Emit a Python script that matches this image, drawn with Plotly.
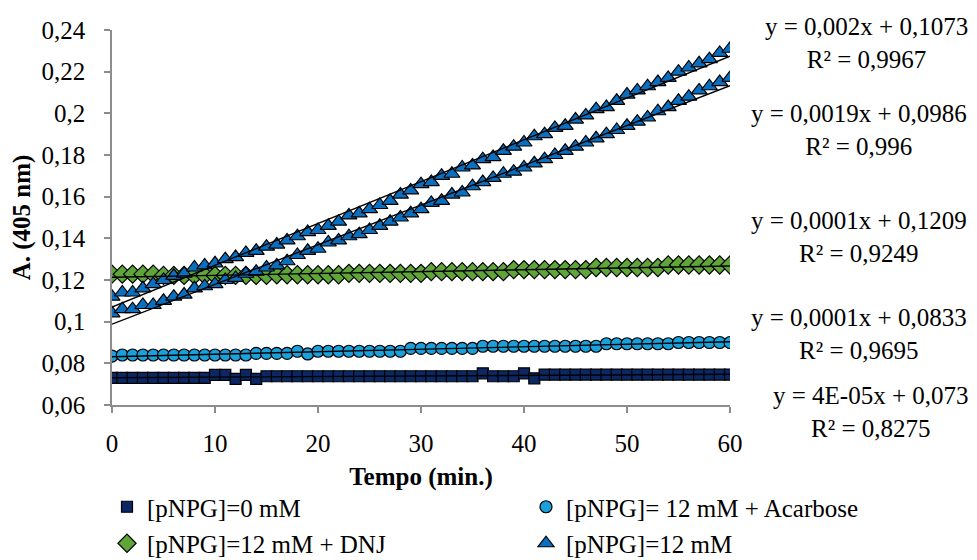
import numpy as np
import plotly.graph_objects as go

# ---------------- data ----------------
tempo = list(range(0, 61))

pnpg_0 = ([0.073] * 10 + [0.0745, 0.0745, 0.0725, 0.0745, 0.0725] + [0.0738] * 21 +
          [0.0752] + [0.0738] * 3 + [0.0752, 0.0728] + [0.0746] * 19)

pnpg_acarbose = ([0.0835] + [0.084] * 13 + [0.0848] * 4 + [0.0858, 0.0845] + [0.0858] * 9 +
                 [0.0872] * 7 + [0.0882] * 12 + [0.0894] * 7 + [0.090] * 6)

pnpg_dnj = ([0.1228] * 5 + [0.1222] * 11 + [0.1225] * 7 + [0.1232] * 8 + [0.1240] * 8 +
            [0.1250] * 8 + [0.1260] * 7 + [0.1272] * 7)

pnpg_12_a = [0.112, 0.114, 0.114, 0.116, 0.118, 0.120, 0.122, 0.123, 0.126, 0.127,
             0.128, 0.130, 0.131, 0.133, 0.134, 0.136, 0.137, 0.139, 0.141, 0.143,
             0.144, 0.146, 0.148, 0.151, 0.152, 0.154, 0.156, 0.158, 0.161, 0.163,
             0.166, 0.167, 0.170, 0.171, 0.174, 0.175, 0.178, 0.179, 0.182, 0.184,
             0.186, 0.189, 0.190, 0.193, 0.194, 0.197, 0.199, 0.202, 0.203, 0.206,
             0.209, 0.211, 0.213, 0.215, 0.217, 0.220, 0.222, 0.224, 0.226, 0.229,
             0.231]

pnpg_12_b = [0.104, 0.106, 0.106, 0.108, 0.108, 0.110, 0.112, 0.113, 0.116, 0.117,
             0.118, 0.120, 0.121, 0.123, 0.124, 0.126, 0.127, 0.129, 0.132, 0.134,
             0.135, 0.138, 0.139, 0.141, 0.142, 0.144, 0.146, 0.148, 0.150, 0.152,
             0.154, 0.157, 0.158, 0.161, 0.162, 0.165, 0.167, 0.169, 0.171, 0.172,
             0.174, 0.176, 0.178, 0.180, 0.182, 0.184, 0.186, 0.188, 0.190, 0.192,
             0.194, 0.196, 0.198, 0.201, 0.203, 0.206, 0.208, 0.211, 0.213, 0.215,
             0.217]

legend_names = ["[pNPG]=0 mM", "[pNPG]= 12 mM + Acarbose", "[pNPG]=12 mM + DNJ", "[pNPG]=12 mM"]

y_ticks = [0.06, 0.08, 0.1, 0.12, 0.14, 0.16, 0.18, 0.2, 0.22, 0.24]
y_tick_labels = ["0,06", "0,08", "0,1", "0,12", "0,14", "0,16", "0,18", "0,2", "0,22", "0,24"]
x_ticks = [0, 10, 20, 30, 40, 50, 60]

eq_texts = ["y = 0,002x + 0,1073", "y = 0,0019x + 0,0986", "y = 0,0001x + 0,1209",
            "y = 0,0001x + 0,0833", "y = 4E-05x + 0,073"]
r2_texts = ["R² = 0,9967", "R² = 0,996", "R² = 0,9249", "R² = 0,9695", "R² = 0,8275"]

# ---------------- figure ----------------
FONT = "Liberation Serif"
FS = 25

series = [
    dict(y=pnpg_0, name=legend_names[0], symbol="square", color="#0B2764", size=11,
         legend="legend", show=True),
    dict(y=pnpg_acarbose, name=legend_names[1], symbol="circle", color="#1AA0DA", size=12,
         legend="legend2", show=True),
    dict(y=pnpg_dnj, name=legend_names[2], symbol="diamond", color="#5FA53A", size=14,
         legend="legend", show=True),
    dict(y=pnpg_12_a, name=legend_names[3], symbol="triangle-up", color="#0A6FBF", size=14,
         legend="legend2", show=True),
    dict(y=pnpg_12_b, name=legend_names[3] + " ", symbol="triangle-up", color="#0A6FBF", size=14,
         legend="legend2", show=False),
]

fig = go.Figure()
for i, s in enumerate(series):
    fig.add_trace(go.Scatter(
        x=tempo, y=s["y"], mode="markers", name=s["name"],
        marker=dict(symbol=s["symbol"], color=s["color"], size=s["size"],
                    line=dict(color="black", width=1.2)),
        showlegend=s["show"], legend=s["legend"], legendgroup="g%d" % i,
    ))

# linear trendlines (least squares of each series)
xt = np.array([tempo[0], tempo[-1]], dtype=float)
for s in series:
    k, b = np.polyfit(np.array(tempo, dtype=float), np.array(s["y"]), 1)
    fig.add_trace(go.Scatter(x=xt, y=k * xt + b, mode="lines",
                             line=dict(color="black", width=1.4),
                             showlegend=False, hoverinfo="skip"))

L, R, T, B = 112, 247, 30, 155
W, H = 977, 560
pw, ph = W - L - R, H - T - B


def px_x(px):
    return (px - L) / pw


def px_y(py):
    return (H - B - py) / ph


eq_pos = [(866, 43), (859, 130), (859, 237), (859, 334), (871, 412)]
annotations = []
for (cx, cy), et, rt in zip(eq_pos, eq_texts, r2_texts):
    annotations.append(dict(x=px_x(cx), y=px_y(cy), xref="paper", yref="paper",
                            text=et + "<br>" + rt, align="center",
                            showarrow=False, xanchor="center", yanchor="middle",
                            font=dict(family=FONT, size=FS, color="black")))

axis_common = dict(showgrid=False, zeroline=False, showline=True, linecolor="#8C8C8C",
                   linewidth=1.5, ticks="outside", tickcolor="#8C8C8C", ticklen=6,
                   tickwidth=1.5, tickfont=dict(family=FONT, size=FS, color="black"),
                   automargin=False)

fig.update_layout(
    width=W, height=H,
    margin=dict(l=L, r=R, t=T, b=B, autoexpand=False),
    paper_bgcolor="white", plot_bgcolor="white",
    font=dict(family=FONT, size=FS, color="black"),
    xaxis=dict(range=[0, 60], tickvals=x_ticks, ticklabelstandoff=9, **axis_common,
               title=dict(text="<b>Tempo (min.)</b>", standoff=12,
                          font=dict(family=FONT, size=FS, color="black"))),
    yaxis=dict(range=[0.06, 0.24], tickvals=y_ticks, ticktext=y_tick_labels,
               ticklabelstandoff=14, **axis_common,
               title=dict(text="<b>A. (405 nm)</b>", standoff=4,
                          font=dict(family=FONT, size=FS, color="black"))),
    legend=dict(x=px_x(107), y=px_y(484), xanchor="left", yanchor="top",
                orientation="v", traceorder="grouped", tracegroupgap=1,
                bgcolor="rgba(0,0,0,0)", font=dict(family=FONT, size=FS, color="black")),
    legend2=dict(x=px_x(526), y=px_y(484), xanchor="left", yanchor="top",
                 orientation="v", traceorder="grouped", tracegroupgap=1,
                 bgcolor="rgba(0,0,0,0)", font=dict(family=FONT, size=FS, color="black")),
    annotations=annotations,
    showlegend=True,
)

fig.write_html("out.html")
